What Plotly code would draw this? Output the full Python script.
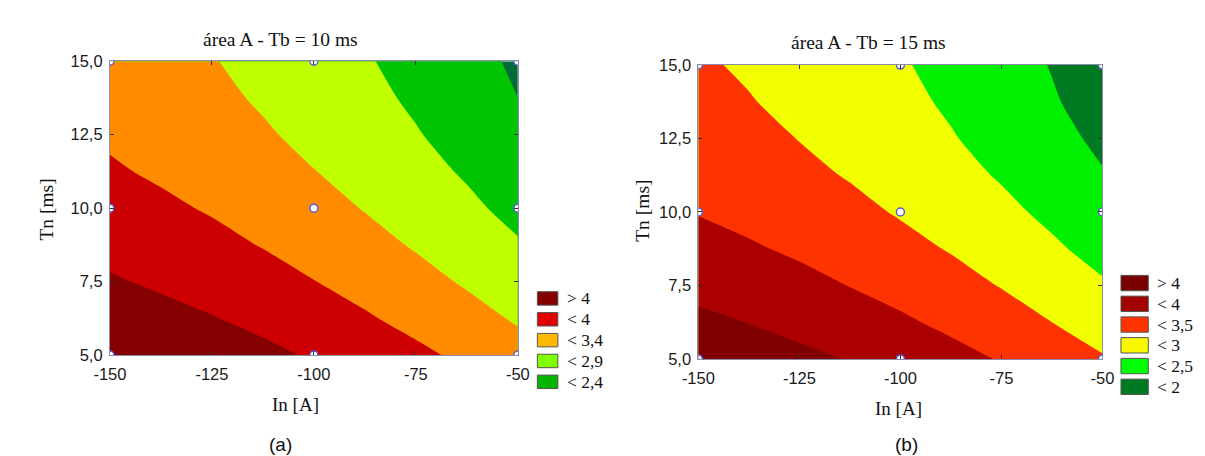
import plotly.graph_objects as go

# ---------------- data ----------------
in_a = [-150, -137.5, -125, -112.5, -100, -87.5, -75, -62.5, -50]   # In [A]
tn_ms = [5, 6.25, 7.5, 8.75, 10, 11.25, 12.5, 13.75, 15]            # Tn [ms]

# area A values (rows = Tn, cols = In)
area_tb10 = [
    [4.39, 4.28, 4.15, 4.01, 3.85, 3.68, 3.50, 3.30, 3.08],
    [4.15, 4.04, 3.92, 3.78, 3.62, 3.45, 3.26, 3.06, 2.85],
    [3.95, 3.83, 3.71, 3.57, 3.41, 3.24, 3.05, 2.85, 2.63],
    [3.76, 3.65, 3.52, 3.38, 3.22, 3.05, 2.86, 2.66, 2.44],
    [3.60, 3.48, 3.36, 3.21, 3.06, 2.88, 2.69, 2.49, 2.27],
    [3.45, 3.34, 3.21, 3.07, 2.91, 2.74, 2.55, 2.35, 2.13],
    [3.34, 3.22, 3.09, 2.95, 2.79, 2.62, 2.43, 2.22, 2.00],
    [3.24, 3.13, 3.00, 2.85, 2.69, 2.52, 2.33, 2.12, 1.90],
    [3.17, 3.05, 2.92, 2.78, 2.62, 2.44, 2.25, 2.05, 1.83],
]
area_tb15 = [
    [4.35, 4.24, 4.11, 3.98, 3.82, 3.65, 3.47, 3.26, 3.04],
    [4.10, 3.99, 3.86, 3.72, 3.57, 3.40, 3.21, 3.00, 2.78],
    [3.87, 3.76, 3.63, 3.49, 3.34, 3.17, 2.98, 2.78, 2.55],
    [3.66, 3.55, 3.43, 3.29, 3.14, 2.97, 2.78, 2.57, 2.35],
    [3.48, 3.37, 3.25, 3.12, 2.96, 2.79, 2.61, 2.40, 2.18],
    [3.33, 3.23, 3.11, 2.97, 2.82, 2.65, 2.46, 2.25, 2.03],
    [3.21, 3.11, 2.99, 2.85, 2.70, 2.53, 2.34, 2.14, 1.91],
    [3.12, 3.02, 2.90, 2.76, 2.61, 2.44, 2.25, 2.04, 1.82],
    [3.05, 2.95, 2.83, 2.70, 2.54, 2.37, 2.19, 1.98, 1.76],
]

design_in = [-150, -150, -150, -100, -100, -100, -50, -50, -50]
design_tn = [5, 10, 15, 5, 10, 15, 5, 10, 15]

x_ticks = [-150, -125, -100, -75, -50]
x_ticktext = ["-150", "-125", "-100", "-75", "-50"]
y_ticks = [5, 7.5, 10, 12.5, 15]
y_ticktext = ["5,0", "7,5", "10,0", "12,5", "15,0"]

levels_a = dict(start=1.9, end=3.9, size=0.5)
levels_b = dict(start=2.0, end=4.0, size=0.5)

fill_a = ["#006a3a", "#00c400", "#bfff00", "#ff8c00", "#cc0000", "#850000"]
fill_b = ["#007a22", "#00f000", "#f2ff00", "#ff3300", "#aa0000", "#800000"]

legend_a_labels = ["> 4", "< 4", "< 3,4", "< 2,9", "< 2,4"]
legend_a_colors = ["#850000", "#e00000", "#ffb800", "#80ff00", "#00b400"]
legend_b_labels = ["> 4", "< 4", "< 3,5", "< 3", "< 2,5", "< 2"]
legend_b_colors = ["#7a0000", "#a30000", "#ff3300", "#f8f800", "#00ff00", "#007a22"]

title_a = "área A - Tb = 10 ms"
title_b = "área A - Tb = 15 ms"

# ---------------- figure ----------------
W, H = 1205, 456
SERIF = "Liberation Serif, Times New Roman, serif"
SANS = "Liberation Sans, Arial, sans-serif"


def px(x):
    return x / W


def py(y):
    return 1 - y / H


def discrete(colors):
    n = len(colors)
    sc = []
    for i, c in enumerate(colors):
        sc.append([i / n, c])
        sc.append([(i + 1) / n, c])
    return sc


fig = go.Figure()

for z, lv, cols, xa, ya in [
    (area_tb10, levels_a, fill_a, "x", "y"),
    (area_tb15, levels_b, fill_b, "x2", "y2"),
]:
    fig.add_trace(go.Contour(
        x=in_a, y=tn_ms, z=z,
        autocontour=False,
        contours=dict(start=lv["start"], end=lv["end"], size=lv["size"],
                      coloring="fill", showlines=False),
        line=dict(width=0, smoothing=0.8),
        colorscale=discrete(cols),
        showscale=False,
        xaxis=xa, yaxis=ya,
        hoverinfo="skip",
    ))
    fig.add_trace(go.Scatter(
        x=design_in, y=design_tn, mode="markers",
        marker=dict(size=8, color="white", line=dict(color="#5a5ad0", width=1.5)),
        xaxis=xa, yaxis=ya, showlegend=False, hoverinfo="skip",
    ))

axis_common = dict(
    showgrid=False, zeroline=False, showline=True, linecolor="#8c8ca8", linewidth=1,
    mirror="ticks", ticks="inside", ticklen=4, tickcolor="#333333",
    tickfont=dict(family=SANS, size=16.5, color="#1a1a1a"),
)

fig.update_layout(
    width=W, height=H,
    margin=dict(l=0, r=0, t=0, b=0),
    paper_bgcolor="white", plot_bgcolor="white",
    showlegend=False,
    xaxis=dict(domain=[px(87), px(505)], range=[-150, -50], tickvals=x_ticks,
               ticktext=x_ticktext, anchor="y", ticklabelstandoff=4, **axis_common),
    yaxis=dict(domain=[py(352), py(46)], range=[5, 15], tickvals=y_ticks,
               ticktext=y_ticktext, anchor="x", ticklabelstandoff=3, **axis_common),
    xaxis2=dict(domain=[px(690), px(1104)], range=[-150, -50], tickvals=x_ticks,
                ticktext=x_ticktext, anchor="y2", ticklabelstandoff=4, **axis_common),
    yaxis2=dict(domain=[py(356), py(50)], range=[5, 15], tickvals=y_ticks,
                ticktext=y_ticktext, anchor="x2", ticklabelstandoff=3, **axis_common),
)

ann = []


def text(x, y, s, size, family, xanchor="center", angle=0):
    ann.append(dict(x=px(x), y=py(y), xref="paper", yref="paper", text=s,
                    showarrow=False, xanchor=xanchor, yanchor="middle",
                    textangle=angle, font=dict(family=family, size=size, color="#111111")))


text(262, 23, title_a, 19.5, SERIF)
text(864, 27, title_b, 19.5, SERIF)
text(277, 403, "In [A]", 19, SERIF)
text(895, 408, "In [A]", 19, SERIF)
text(22, 200, "Tn [ms]", 19.5, SERIF, angle=-90)
text(632, 202, "Tn [ms]", 19.5, SERIF, angle=-90)
text(262, 445, "(a)", 19, SANS)
text(903, 445, "(b)", 19, SANS)

shapes = []
# legend (a)
for i, (lab, col) in enumerate(zip(legend_a_labels, legend_a_colors)):
    cy = 293 + i * 21.7
    shapes.append(dict(type="rect", xref="paper", yref="paper",
                       x0=px(525), x1=px(546), y0=py(cy - 7), y1=py(cy + 7),
                       fillcolor=col, line=dict(color="#555555", width=1)))
    text(553, cy, lab, 17.5, SERIF, xanchor="left")
# legend (b)
for i, (lab, col) in enumerate(zip(legend_b_labels, legend_b_colors)):
    cy = 277 + i * 21.6
    shapes.append(dict(type="rect", xref="paper", yref="paper",
                       x0=px(1123), x1=px(1151), y0=py(cy - 8), y1=py(cy + 8),
                       fillcolor=col, line=dict(color="#555555", width=1)))
    text(1158, cy, lab, 17.5, SERIF, xanchor="left")

fig.update_layout(annotations=ann, shapes=shapes)

fig.write_html("out.html")
